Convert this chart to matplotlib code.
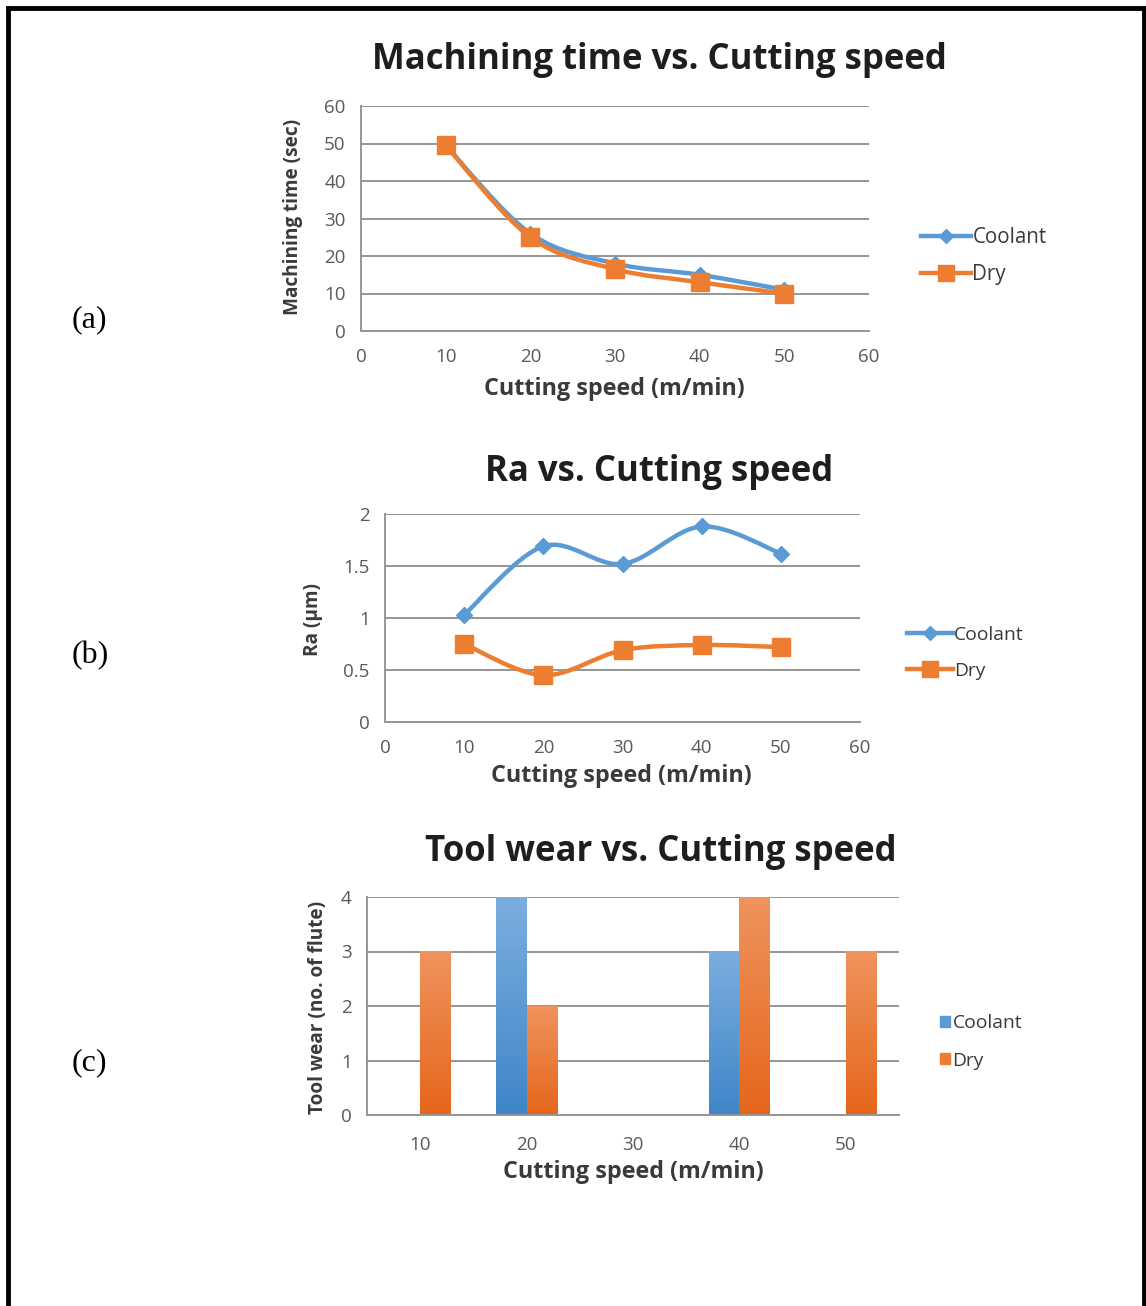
import matplotlib
matplotlib.use("Agg")
import matplotlib.pyplot as plt
import numpy as np
from matplotlib.lines import Line2D
from matplotlib.path import Path
from matplotlib.patches import PathPatch, Rectangle
from matplotlib.colors import LinearSegmentedColormap

plt.rcParams['font.family'] = ['Open Sans', 'DejaVu Sans']

# data
speed = [10, 20, 30, 40, 50]
time_coolant = [49.5, 26, 18, 15, 11]
time_dry = [49.5, 25, 16.5, 13, 10]
ra_coolant = [1.03, 1.69, 1.52, 1.88, 1.62]
ra_dry = [0.75, 0.45, 0.69, 0.74, 0.72]
wear_coolant = [0, 4, 0, 3, 0]
wear_dry = [3, 2, 0, 4, 3]
series_names = ['Coolant', 'Dry']

BLUE = '#5B9BD5'
ORANGE = '#ED7D31'
GRID = '#959595'
TICK = '#595959'
LABEL = '#3A3A3A'
TITLE = '#1E1E1E'

TITLE_FS = 25
XLAB_FS = 16.8
YLAB_FS = 13.7
TICK_FS = 13.5

W, H = 1146, 1306
fig = plt.figure(figsize=(W / 100, H / 100), dpi=100)


def fx(x):
    return x / W


def fy(y):
    return 1 - y / H


def box(l, t, r, b):
    return [fx(l), fy(b), (r - l) / W, (b - t) / H]


def smooth_path(x, y):
    # bezier segments through the points, like a spreadsheet "smoothed line"
    p = np.column_stack([x, y]).astype(float)
    ext = np.vstack([p[0], p, p[-1]])
    verts = [p[0]]
    codes = [Path.MOVETO]
    for i in range(len(p) - 1):
        c1 = ext[i + 1] + (ext[i + 2] - ext[i]) / 6
        c2 = ext[i + 2] - (ext[i + 3] - ext[i + 1]) / 6
        verts += [c1, c2, ext[i + 2]]
        codes += [Path.CURVE4] * 3
    return Path(verts, codes)


def style_axes(ax, yticks):
    ax.set_yticks(yticks)
    ax.yaxis.grid(True, color=GRID, lw=1.4)
    ax.set_axisbelow(True)
    for s in ['top', 'right']:
        ax.spines[s].set_visible(False)
    for s in ['left', 'bottom']:
        ax.spines[s].set_color(GRID)
        ax.spines[s].set_linewidth(1.4)
    ax.tick_params(length=0, labelsize=TICK_FS, colors=TICK)
    ax.tick_params(axis='x', pad=12)
    ax.tick_params(axis='y', pad=11)


def line_chart(ax, ys, names):
    handles = []
    cfg = [(BLUE, 'D', 8), (ORANGE, 's', 13)]
    for y, name, (c, m, ms) in zip(ys, names, cfg):
        ax.add_patch(PathPatch(smooth_path(speed, y), fc='none', ec=c, lw=3.2,
                               zorder=3))
        ax.plot(speed, y, ls='none', marker=m, ms=ms, color=c,
                mec=c, zorder=4)
        handles.append(Line2D([], [], color=c, lw=3.2, marker=m, ms=ms * 0.85,
                              mec=c, label=name))
    return handles


def legend(handles, x, y, gap, size, hl):
    fig.legend(handles=handles, loc='center left',
               bbox_to_anchor=(fx(x), fy(y)), frameon=False, fontsize=size,
               handlelength=hl, handletextpad=0.05, labelspacing=gap,
               borderpad=0, borderaxespad=0, labelcolor=LABEL)


# (a) machining time
ax1 = fig.add_axes(box(361, 106, 869, 331))
h1 = line_chart(ax1, [time_coolant, time_dry], series_names)
ax1.set_xlim(0, 60)
ax1.set_ylim(0, 60)
ax1.set_xticks(range(0, 61, 10))
style_axes(ax1, range(0, 61, 10))
fig.text(fx(659), fy(60), 'Machining time vs. Cutting speed', ha='center',
         va='center', fontsize=TITLE_FS, fontweight='bold', color=TITLE)
fig.text(fx(614), fy(389), 'Cutting speed (m/min)', ha='center', va='center',
         fontsize=XLAB_FS, fontweight='bold', color=LABEL)
fig.text(fx(293), fy(217), 'Machining time (sec)', ha='center', va='center',
         rotation=90, fontsize=YLAB_FS, fontweight='bold', color=LABEL)
legend(h1, 921, 256, 0.8, 14.8, 2.45)

# (b) surface roughness
ax2 = fig.add_axes(box(385, 514, 860, 722))
h2 = line_chart(ax2, [ra_coolant, ra_dry], series_names)
ax2.set_xlim(0, 60)
ax2.set_ylim(0, 2)
ax2.set_xticks(range(0, 61, 10))
style_axes(ax2, [0, 0.5, 1, 1.5, 2])
ax2.set_yticklabels(['0', '0.5', '1', '1.5', '2'])
fig.text(fx(659), fy(472), 'Ra vs. Cutting speed', ha='center',
         va='center', fontsize=TITLE_FS, fontweight='bold', color=TITLE)
fig.text(fx(621), fy(776), 'Cutting speed (m/min)', ha='center', va='center',
         fontsize=XLAB_FS, fontweight='bold', color=LABEL)
fig.text(fx(313), fy(619), 'Ra (µm)', ha='center', va='center',
         rotation=90, fontsize=YLAB_FS, fontweight='bold', color=LABEL)
legend(h2, 907, 653, 0.95, 13.9, 2.4)

# (c) tool wear
ax3 = fig.add_axes(box(367, 897, 899, 1115))
pos = np.arange(len(speed))
bw = 0.29
grad = np.linspace(1, 0, 64).reshape(-1, 1)
cmaps = [LinearSegmentedColormap.from_list('b', ['#3F86C8', '#7BAEE0']),
         LinearSegmentedColormap.from_list('o', ['#E5661A', '#F0935E'])]
h3 = []
for k, (vals, name, c, cm) in enumerate(zip([wear_coolant, wear_dry],
                                            series_names, [BLUE, ORANGE], cmaps)):
    offs = pos + (k - 0.5) * bw
    bars = ax3.bar(offs, vals, width=bw, color='none', zorder=2)
    for b in bars:
        x0, y0 = b.get_xy()
        bh = b.get_height()
        if bh <= 0:
            continue
        ax3.imshow(grad, extent=[x0, x0 + b.get_width(), y0, y0 + bh],
                   aspect='auto', cmap=cm, vmin=0, vmax=1, zorder=2)
    h3.append(Rectangle((0, 0), 1, 1, color=c, label=name))
ax3.set_xlim(-0.5, len(speed) - 0.5)
ax3.set_ylim(0, 4)
ax3.set_xticks(pos)
ax3.set_xticklabels([str(s) for s in speed])
style_axes(ax3, range(0, 5))
ax3.tick_params(axis='x', pad=15)
fig.text(fx(661), fy(852), 'Tool wear vs. Cutting speed', ha='center',
         va='center', fontsize=TITLE_FS, fontweight='bold', color=TITLE)
fig.text(fx(633), fy(1172), 'Cutting speed (m/min)', ha='center', va='center',
         fontsize=XLAB_FS, fontweight='bold', color=LABEL)
fig.text(fx(318), fy(1007), 'Tool wear (no. of flute)', ha='center',
         va='center', rotation=90, fontsize=YLAB_FS, fontweight='bold',
         color=LABEL)
fig.legend(handles=h3, loc='center left', bbox_to_anchor=(fx(940), fy(1042)),
           frameon=False, fontsize=13.9, handlelength=0.5, handleheight=0.5,
           handletextpad=0.15, labelspacing=1.0, borderpad=0, borderaxespad=0,
           labelcolor=LABEL)

# panel letters
for txt, y in [('(a)', 320), ('(b)', 656), ('(c)', 1063)]:
    fig.text(fx(72), fy(y), txt, ha='left', va='center', fontsize=23,
             family='Liberation Serif', color='black')

# outer frame (open at the bottom)
fig.add_artist(Line2D([fx(7.5), fx(7.5), fx(1143.5), fx(1143.5)],
                      [0, fy(8), fy(8), 0], color='black', lw=3.5,
                      solid_joinstyle='miter'))

fig.savefig('out.png', dpi=100)
